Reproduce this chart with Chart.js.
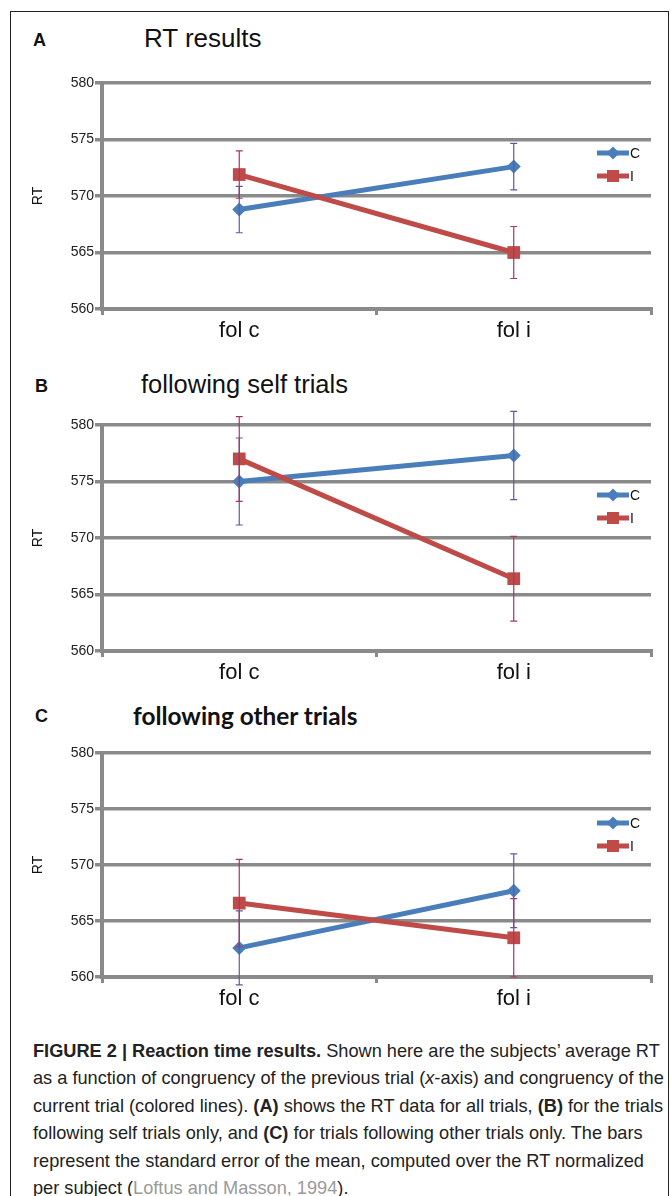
<!DOCTYPE html>
<html>
<head>
<meta charset="utf-8">
<script src="https://cdn.jsdelivr.net/npm/chart.js@4/dist/chart.umd.min.js"></script>
<style>
  body { margin: 0; background: #fff; width: 671px; height: 1196px; overflow: hidden; position: relative; font-family: "Liberation Sans", Arial, sans-serif; }
  .frame { position: absolute; left: 10px; top: 11px; width: 657px; height: 1200px; border: 1px solid #222; border-bottom: none; }
  .panel { position: absolute; left: 11px; width: 658px; height: 300px; }
  .letter { position: absolute; font-weight: bold; font-size: 18px; color: #111; }
  .ptitle { position: absolute; color: #111; white-space: nowrap; }
  .caption { position: absolute; left: 33px; top: 1038px; font-family: "Liberation Sans", Arial, sans-serif; font-size: 18.2px; line-height: 27.4px; color: #222; white-space: nowrap; }
  .caption .ref { color: #9a9a9a; }
</style>
</head>
<body>
<div class="frame"></div>

<div class="letter" style="left:33px; top:30px;">A</div>
<div class="ptitle" style="left:144px; top:23px; font-size:26px;">RT results</div>
<div class="panel" style="top:60px;"><canvas id="chartA" width="658" height="300"></canvas></div>

<div class="letter" style="left:35px; top:376px;">B</div>
<div class="ptitle" style="left:141px; top:370px; font-size:25.5px;">following self trials</div>
<div class="panel" style="top:400px;"><canvas id="chartB" width="658" height="300"></canvas></div>

<div class="letter" style="left:35px; top:706px;">C</div>
<div class="ptitle" style="left:133px; top:701px; font-size:24.4px; font-weight:bold; font-family:Lato, sans-serif;">following other trials</div>
<div class="panel" style="top:730px;"><canvas id="chartC" width="658" height="300"></canvas></div>

<div class="caption">
<b>FIGURE 2 | Reaction time results.</b> Shown here are the subjects’ average RT<br>
as a function of congruency of the previous trial (<i>x</i>-axis) and congruency of the<br>
current trial (colored lines). <b>(A)</b> shows the RT data for all trials, <b>(B)</b> for the trials<br>
following self trials only, and <b>(C)</b> for trials following other trials only. The bars<br>
represent the standard error of the mean, computed over the RT normalized<br>
per subject (<span class="ref">Loftus and Masson, 1994</span>).
</div>

<script>
// categories (previous trial congruency)
const categories = ['fol c', 'fol i'];
const seriesNames = ['C', 'I'];

// A: all trials
const rtAllC = [568.8, 572.6];
const errAllC = [2.05, 2.05];
const rtAllI = [571.9, 565.0];
const errAllI = [2.1, 2.3];

// B: following self trials
const rtSelfC = [575.0, 577.3];
const errSelfC = [3.85, 3.9];
const rtSelfI = [577.0, 566.4];
const errSelfI = [3.75, 3.75];

// C: following other trials
const rtOtherC = [562.6, 567.7];
const errOtherC = [3.3, 3.3];
const rtOtherI = [566.6, 563.5];
const errOtherI = [3.9, 3.5];

const yMin = 560, yMax = 580, yStep = 5;

const blue = '#4a7ebb';
const red = '#be4b48';
const grey = '#8a8a8a';

const errorBars = {
    id: 'errorBars',
    afterDatasetsDraw(chart) {
        const ctx = chart.ctx;
        const y = chart.scales.y;
        chart.data.datasets.forEach((ds, i) => {
            const meta = chart.getDatasetMeta(i);
            ctx.save();
            ctx.strokeStyle = ds.errColor;
            ctx.lineWidth = 1.2;
            meta.data.forEach((pt, j) => {
                const top = y.getPixelForValue(ds.data[j] + ds.err[j]);
                const bot = y.getPixelForValue(ds.data[j] - ds.err[j]);
                ctx.beginPath();
                ctx.moveTo(pt.x, top); ctx.lineTo(pt.x, bot);
                ctx.moveTo(pt.x - 3.5, top); ctx.lineTo(pt.x + 3.5, top);
                ctx.moveTo(pt.x - 3.5, bot); ctx.lineTo(pt.x + 3.5, bot);
                ctx.stroke();
            });
            ctx.restore();
        });
    }
};

// excel style legend sitting inside the plot, right side
const lineLegend = {
    id: 'lineLegend',
    afterDraw(chart) {
        const ctx = chart.ctx;
        const area = chart.chartArea;
        chart.data.datasets.forEach((ds, i) => {
            const ly = area.top + 70 + i * 23;
            const lx = area.right - 54;
            ctx.save();
            ctx.strokeStyle = ds.borderColor;
            ctx.lineWidth = 5;
            ctx.beginPath();
            ctx.moveTo(lx, ly); ctx.lineTo(lx + 32, ly);
            ctx.stroke();
            ctx.fillStyle = ds.borderColor;
            ctx.beginPath();
            if (ds.pointStyle === 'rectRot') {
                ctx.moveTo(lx + 16, ly - 6.5); ctx.lineTo(lx + 22.5, ly);
                ctx.lineTo(lx + 16, ly + 6.5); ctx.lineTo(lx + 9.5, ly);
            } else {
                ctx.rect(lx + 10, ly - 6, 12, 12);
            }
            ctx.fill();
            ctx.fillStyle = '#111';
            ctx.font = '14px "Liberation Sans", Arial';
            ctx.textBaseline = 'middle';
            ctx.fillText(ds.label, lx + 33, ly + 1);
            ctx.restore();
        });
    }
};

function makeChart(id, cVals, cErr, iVals, iErr, padTop, xHeight) {
    return new Chart(document.getElementById(id), {
        type: 'line',
        data: {
            labels: categories,
            datasets: [
                {
                    label: seriesNames[0], data: cVals, err: cErr, errColor: '#5b5ba3',
                    borderColor: blue, backgroundColor: blue, borderWidth: 5,
                    pointStyle: 'rectRot', pointRadius: 7, pointBorderWidth: 0,
                    order: 2
                },
                {
                    label: seriesNames[1], data: iVals, err: iErr, errColor: '#a8346a',
                    borderColor: red, backgroundColor: red, borderWidth: 5,
                    pointStyle: 'rect', pointRadius: 9, pointBorderWidth: 0,
                    order: 1
                }
            ]
        },
        options: {
            responsive: false,
            animation: false,
            layout: { padding: { top: padTop, right: 18, left: 0, bottom: 0 } },
            plugins: { legend: { display: false }, tooltip: { enabled: false } },
            scales: {
                x: {
                    offset: true,
                    grid: { offset: true, drawOnChartArea: false, drawTicks: true, tickLength: 6, color: grey, lineWidth: 3 },
                    border: { color: grey, width: 4 },
                    ticks: { color: '#111', font: { size: 22, family: '"Liberation Sans", Arial' }, padding: 3 },
                    afterFit: s => { s.height = xHeight; }
                },
                y: {
                    min: yMin, max: yMax,
                    ticks: { stepSize: yStep, color: '#222', font: { size: 14, family: '"Liberation Sans", Arial' }, padding: 1 },
                    grid: { color: grey, lineWidth: 3.5, tickLength: 7 },
                    border: { color: grey, width: 4 },
                    title: { display: true, text: 'RT', color: '#111', font: { size: 14, family: '"Liberation Sans", Arial' }, padding: { top: 19, bottom: 0 } },
                    afterFit: s => { s.width = 91; }
                }
            }
        },
        plugins: [errorBars, lineLegend]
    });
}

makeChart('chartA', rtAllC, errAllC, rtAllI, errAllI, 23, 51);
makeChart('chartB', rtSelfC, errSelfC, rtSelfI, errSelfI, 25, 49);
makeChart('chartC', rtOtherC, errOtherC, rtOtherI, errOtherI, 23, 53);
</script>
</body>
</html>
